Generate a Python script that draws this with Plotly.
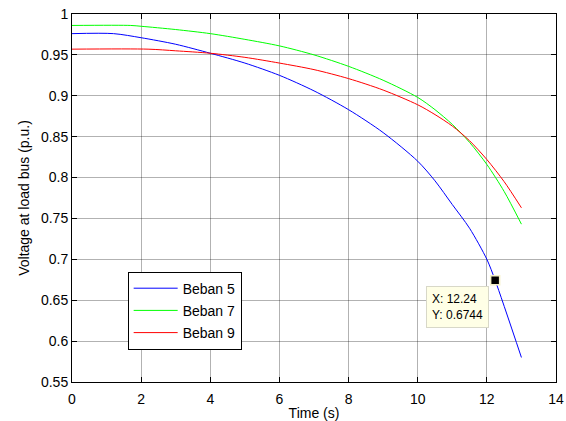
import plotly.graph_objects as go

# Time samples (s) and load-bus voltages (p.u.) for each load
t_beban5 = [0, 1.2, 2, 3, 4, 5, 6, 7, 8, 9, 10, 10.5, 11, 11.5, 12, 12.24, 13]
v_beban5 = [0.976, 0.976, 0.971, 0.963, 0.952, 0.940, 0.925, 0.906, 0.883, 0.855,
            0.820, 0.796, 0.767, 0.738, 0.700, 0.6744, 0.580]

t_beban7 = [0, 1.7, 2, 3, 4, 5, 6, 7, 8, 9, 10, 10.5, 11, 11.5, 12, 12.5, 13]
v_beban7 = [0.986, 0.986, 0.985, 0.981, 0.976, 0.969, 0.961, 0.950, 0.936, 0.919,
            0.898, 0.883, 0.865, 0.843, 0.816, 0.783, 0.743]

t_beban9 = [0, 2.2, 3, 4, 5, 6, 7, 8, 9, 10, 10.5, 11, 11.5, 12, 12.5, 13]
v_beban9 = [0.957, 0.957, 0.955, 0.952, 0.947, 0.940, 0.932, 0.921, 0.907, 0.889,
            0.877, 0.863, 0.845, 0.822, 0.795, 0.763]

series_names = ["Beban 5", "Beban 7", "Beban 9"]
series_colors = ["#0000FF", "#00FF00", "#FF0000"]

# Data cursor
tip_x = 12.24
tip_y = 0.6744

x_ticks = [0, 2, 4, 6, 8, 10, 12, 14]
y_ticks = [0.55, 0.6, 0.65, 0.7, 0.75, 0.8, 0.85, 0.9, 0.95, 1]

FONT = "Liberation Sans, Arial, sans-serif"

fig = go.Figure()
for t, v, name, color in zip([t_beban5, t_beban7, t_beban9],
                             [v_beban5, v_beban7, v_beban9],
                             series_names, series_colors):
    fig.add_trace(go.Scatter(
        x=t, y=v, mode="lines", name=name, legendgroup=name,
        line=dict(color=color, width=1, shape="spline", smoothing=0.8),
    ))

fig.add_trace(go.Scatter(
    x=[tip_x], y=[tip_y], mode="markers", showlegend=False,
    marker=dict(symbol="square", size=9, color="black",
                line=dict(color="#f4f0c8", width=1.5)),
))

fig.add_annotation(
    x=tip_x, y=tip_y, xref="x", yref="y",
    text=f"X: {tip_x}<br>Y: {tip_y}",
    showarrow=True, arrowcolor="rgba(0,0,0,0)", arrowhead=0,
    ax=-38, ay=27, align="left",
    bgcolor="#FFFFE6", bordercolor="#d8d8c8", borderwidth=1, borderpad=5,
    font=dict(family=FONT, size=12, color="black"),
)

grid = "rgba(0,0,0,0.3)"
common_axis = dict(
    showline=True, linecolor="black", linewidth=1, mirror="ticks",
    ticks="inside", ticklen=5, tickcolor="black",
    showgrid=True, gridcolor=grid, gridwidth=1, zeroline=False,
    tickfont=dict(family=FONT, size=14, color="black"),
    automargin=False,
)

fig.update_xaxes(
    range=[0, 14], tickvals=x_ticks,
    title=dict(text="Time (s)", font=dict(family=FONT, size=14, color="black"), standoff=4),
    ticklabelstandoff=4,
    **common_axis,
)
fig.update_yaxes(
    range=[0.55, 1], tickvals=y_ticks,
    title=dict(text="Voltage at load bus (p.u.)", font=dict(family=FONT, size=14, color="black"), standoff=8),
    ticklabelstandoff=0,
    **common_axis,
)

fig.update_layout(
    width=566, height=421,
    margin=dict(l=72, r=10, t=14, b=39),
    paper_bgcolor="white", plot_bgcolor="white",
    font=dict(family=FONT, size=14, color="black"),
    legend=dict(
        x=0.115, y=0.30, xanchor="left", yanchor="top",
        bgcolor="white", bordercolor="black", borderwidth=1,
        font=dict(family=FONT, size=14, color="black"),
        tracegroupgap=1, itemwidth=44,
    ),
)

fig.write_html("out.html")
